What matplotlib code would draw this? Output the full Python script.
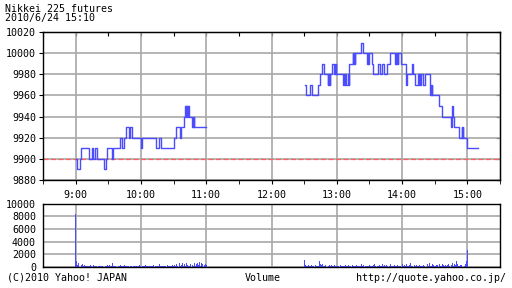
import numpy as np
import matplotlib.pyplot as plt

# price change points, minutes from 9:00
am_t = [0, 1, 4, 5, 12, 15, 16, 18, 20, 26, 28, 29, 33, 34, 41, 43, 44, 46, 49, 50,
        52, 60, 61, 74, 77, 78, 90, 92, 96, 97, 100, 100.5, 101, 101.5, 102, 102.5,
        103, 103.5, 104, 107, 107.5, 108, 108.5, 109, 120]
am_p = [9900, 9890, 9900, 9910, 9900, 9910, 9900, 9910, 9900, 9890, 9900, 9910, 9900,
        9910, 9920, 9910, 9920, 9930, 9920, 9930, 9920, 9910, 9920, 9910, 9920, 9910,
        9920, 9930, 9920, 9930, 9940, 9950, 9940, 9950, 9940, 9950, 9940, 9950, 9940,
        9930, 9940, 9930, 9940, 9930, 9930]

pm_t = [211, 212, 215, 217, 223, 225, 226, 228, 231.5, 232, 232.5, 233, 233.5, 234,
        235.4, 237.6, 238, 238.5, 239, 239.5, 240, 246, 247, 247.5, 248, 248.5, 250,
        251, 251.3, 254.6, 255.2, 255.8, 256.3, 257, 262.2, 263.8, 268, 268.5, 269,
        269.5, 272, 273, 278, 279.6, 282, 283.3, 285.7, 288.7, 293.3, 294, 294.6,
        295.2, 295.8, 296.4, 297, 299.4, 303.4, 304.6, 309, 310, 312, 314.6, 315.2,
        315.8, 316.4, 317.7, 319.2, 320.7, 325.3, 325.8, 326.3, 326.8, 327.3, 327.7,
        333.8, 336.6, 345, 345.5, 346, 347, 348, 352, 354.8, 355.3, 355.8, 356.3,
        359.4, 370]
pm_p = [9970, 9960, 9970, 9960, 9970, 9980, 9990, 9980, 9970, 9980, 9970, 9980, 9970,
        9980, 9990, 9980, 9990, 9980, 9990, 9980, 9980, 9970, 9980, 9970, 9980, 9970,
        9980, 9970, 9990, 10000, 9990, 10000, 9990, 10000, 10010, 10000, 9990, 10000,
        9990, 10000, 9990, 9980, 9990, 9980, 9990, 9980, 9990, 10000, 9990, 10000,
        9990, 10000, 9990, 10000, 10000, 9990, 9970, 9980, 9990, 9980, 9970, 9980,
        9970, 9980, 9970, 9980, 9970, 9980, 9970, 9960, 9970, 9960, 9970, 9960, 9950,
        9940, 9930, 9940, 9950, 9940, 9930, 9920, 9930, 9920, 9930, 9920, 9910, 9910]

prev_close = 9900

# volume per minute
am_vol = [8300, 900, 300, 600, 400, 250, 500, 200, 300, 150,
          100, 200, 150, 100, 300, 200, 350, 100, 150, 100,
          50, 150, 100, 200, 100, 150, 50, 200, 100, 300,
          150, 250, 100, 200, 600, 200, 100, 150, 50, 100,
          150, 300, 100, 200, 100, 250, 150, 100, 200, 100,
          150, 100, 50, 200, 100, 150, 100, 200, 100, 300,
          150, 200, 100, 150, 350, 100, 200, 150, 100, 200,
          100, 150, 250, 100, 200, 150, 100, 400, 100, 150,
          100, 200, 100, 150, 300, 100, 200, 100, 150, 250,
          100, 300, 150, 500, 200, 600, 150, 300, 700, 200,
          400, 150, 700, 300, 200, 150, 500, 300, 150, 600,
          200, 400, 700, 300, 800, 200, 600, 400, 300, 500,
          300]
pm_vol = [1150, 250, 200, 150, 300, 100, 200, 250, 150, 100,
          300, 150, 200, 150, 950, 400, 300, 500, 200, 150,
          300, 100, 200, 250, 150, 300, 100, 200, 350, 150,
          200, 100, 150, 300, 100, 200, 150, 100, 250, 100,
          150, 300, 200, 100, 250, 150, 100, 200, 300, 150,
          100, 200, 150, 500, 200, 300, 100, 150, 200, 100,
          300, 150, 200, 100, 250, 400, 150, 200, 100, 300,
          150, 200, 400, 100, 250, 150, 300, 200, 100, 400,
          200, 150, 100, 300, 200, 150, 250, 100, 200, 150,
          500, 150, 300, 200, 550, 200, 150, 300, 700, 200,
          100, 250, 150, 300, 100, 200, 350, 150, 200, 100,
          300, 150, 200, 400, 150, 600, 200, 100, 500, 300,
          150, 200, 300, 250, 500, 150, 200, 400, 300, 200,
          250, 150, 300, 500, 200, 350, 600, 150, 400, 300,
          900, 400, 200, 150, 300, 250, 200, 200, 500, 950,
          2600]

hour_ticks = [0, 60, 120, 180, 240, 300, 360]
hour_labels = ['9:00', '10:00', '11:00', '12:00', '13:00', '14:00', '15:00']

plt.rcParams['font.family'] = ['DejaVu Sans Mono']
plt.rcParams['font.size'] = 7.2

blue = '#4c4cff'
grid_c = '#a8a8a8'

fig = plt.figure(figsize=(5.12, 2.88), dpi=100)
ax = fig.add_axes([43 / 512, 1 - 180 / 288, 457 / 512, 148 / 288])
av = fig.add_axes([43 / 512, 1 - 267 / 288, 457 / 512, 63.5 / 288])

for a in (ax, av):
    a.set_xlim(-30, 390)
    a.set_xticks(hour_ticks)
    a.grid(True, color=grid_c, linewidth=1.2)
    a.set_axisbelow(True)
    for s in a.spines.values():
        s.set_linewidth(1.0)

ax.axhline(prev_close, color='#ff6060', linewidth=0.9, dashes=(4, 2))
ax.plot(am_t, am_p, drawstyle='steps-post', color=blue, linewidth=1.0)
ax.plot(pm_t, pm_p, drawstyle='steps-post', color=blue, linewidth=1.0)
ax.set_ylim(9880, 10020)
ax.set_yticks(np.arange(9880, 10021, 20))
ax.set_xticks(np.arange(-30, 391, 30), minor=True)
ax.set_xticklabels(hour_labels)
ax.tick_params(axis='x', which='both', direction='out', length=3, pad=4, color='black')
ax.tick_params(axis='y', direction='out', length=3, pad=2)
top = ax.secondary_xaxis('top')
top.set_xticks(np.arange(-30, 391, 30))
top.tick_params(direction='in', length=3, labeltop=False)
right = ax.secondary_yaxis('right')
right.set_yticks(np.arange(9880, 10021, 20))
right.tick_params(direction='in', length=3, labelright=False)

av.bar(np.arange(0, len(am_vol)), am_vol, width=0.9, color=blue, linewidth=0)
av.bar(np.arange(210, 210 + len(pm_vol)), pm_vol, width=0.9, color=blue, linewidth=0)
av.set_ylim(0, 10000)
av.set_yticks(np.arange(0, 10001, 2000))
av.tick_params(axis='x', length=0, labelbottom=False)
av.tick_params(axis='y', length=0, pad=5)

fig.text(5 / 512, 1 - 4 / 288, 'Nikkei 225 futures', ha='left', va='top')
fig.text(5 / 512, 1 - 13 / 288, '2010/6/24 15:10', ha='left', va='top')
fig.text(7 / 512, 1 - 278 / 288, '(C)2010 Yahoo! JAPAN', ha='left', va='center')
fig.text(263 / 512, 1 - 278 / 288, 'Volume', ha='center', va='center')
fig.text(506 / 512, 1 - 278 / 288, 'http://quote.yahoo.co.jp/', ha='right', va='center')

fig.savefig('out.png', dpi=100)
